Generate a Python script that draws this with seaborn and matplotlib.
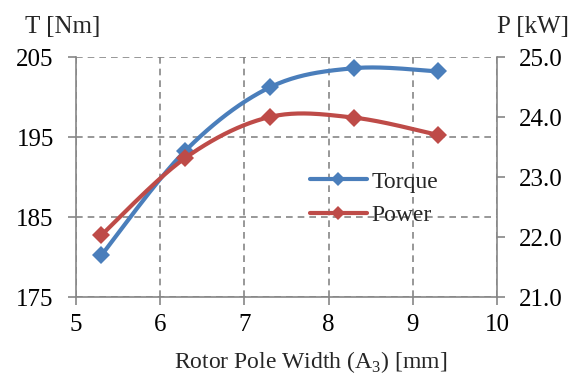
import numpy as np
import matplotlib
matplotlib.use("Agg")
import matplotlib.pyplot as plt
from matplotlib.lines import Line2D
import seaborn as sns

# values
pole_width = [5.3, 6.3, 7.3, 8.3, 9.3]
torque = [180.2, 193.3, 201.2, 203.6, 203.2]
power = [22.03, 23.32, 24.00, 23.99, 23.70]

x_ticks = [5, 6, 7, 8, 9, 10]
t_ticks = [175, 185, 195, 205]
p_ticks = [21.0, 22.0, 23.0, 24.0, 25.0]

BLUE = "#4A7EBB"
RED = "#BE4B48"
GRID = "#868686"


def smooth(xs, ys, n=40):
    # excel-style smoothed line (bezier through the points)
    p = np.column_stack([xs, ys]).astype(float)
    ext = np.vstack([p[0], p, p[-1]])
    out = []
    for i in range(len(p) - 1):
        p0, p1 = p[i], p[i + 1]
        c1 = p0 + (ext[i + 2] - ext[i]) / 6.0
        c2 = p1 - (ext[i + 3] - ext[i + 1]) / 6.0
        t = np.linspace(0, 1, n)[:, None]
        seg = ((1 - t) ** 3) * p0 + 3 * ((1 - t) ** 2) * t * c1 + 3 * (1 - t) * t ** 2 * c2 + t ** 3 * p1
        out.append(seg if i == 0 else seg[1:])
    out = np.vstack(out)
    return out[:, 0], out[:, 1]


sns.set_theme(style="white")
plt.rcParams["font.family"] = ["Liberation Serif", "DejaVu Serif"]
plt.rcParams["mathtext.fontset"] = "custom"
plt.rcParams["mathtext.rm"] = "Liberation Serif"

fig = plt.figure(figsize=(5.88, 3.74), dpi=100)
ax = fig.add_axes([76 / 588, 1 - 297 / 374, (497 - 76) / 588, (297 - 57) / 374])
ax2 = ax.twinx()

tx, ty = smooth(pole_width, torque)
sns.lineplot(x=tx, y=ty, ax=ax, color=BLUE, lw=3.0, sort=False, zorder=3)
ax.plot(pole_width, torque, "D", color=BLUE, ms=9, mew=0, zorder=4)

px, py = smooth(pole_width, power)
sns.lineplot(x=px, y=py, ax=ax2, color=RED, lw=3.0, sort=False, zorder=3)
ax2.plot(pole_width, power, "D", color=RED, ms=9, mew=0, zorder=4)

ax.set_xlim(5, 10)
ax.set_ylim(175, 205)
ax2.set_ylim(21, 25)
ax.set_xticks(x_ticks)
ax.set_yticks(t_ticks)
ax2.set_yticks(p_ticks)
ax2.set_yticklabels(["%.1f" % v for v in p_ticks])

ax.grid(True, color=GRID, lw=1.2, ls=(0, (4, 3)))
ax2.grid(False)

for a in (ax, ax2):
    a.set_facecolor("none")
    for s in a.spines.values():
        s.set_visible(False)
ax.spines["left"].set_visible(True)
ax.spines["bottom"].set_visible(True)
ax2.spines["right"].set_visible(True)
for s in (ax.spines["left"], ax.spines["bottom"], ax2.spines["right"]):
    s.set_color(GRID)
    s.set_linewidth(1.2)

ax.tick_params(axis="both", which="major", direction="out", length=6, width=1.2,
               color=GRID, labelsize=18, labelcolor="black")
ax.tick_params(axis="y", pad=10, left=True)
ax.tick_params(axis="x", pad=6, bottom=True)
ax2.tick_params(axis="y", direction="out", length=6, width=1.2, color=GRID,
                labelsize=18, labelcolor="black", pad=10, right=True)
ax.set_xlabel("")
ax.set_ylabel("")
ax2.set_ylabel("")

fig.text(25 / 588, 1 - 33 / 374, "T [Nm]", fontsize=18, va="baseline", ha="left")
fig.text(497 / 588, 1 - 33 / 374, "P [kW]", fontsize=18, va="baseline", ha="left")
fig.text(311 / 588, 1 - 368 / 374, r"Rotor Pole Width (A$_\mathregular{3}$) [mm]",
         fontsize=17, va="baseline", ha="center")

handles = [Line2D([], [], color=BLUE, lw=3.0, marker="D", ms=7, mew=0),
           Line2D([], [], color=RED, lw=3.0, marker="D", ms=7, mew=0)]
ax2.legend(handles, ["Torque", "Power"], loc="center left",
           bbox_to_anchor=(310 / 588, 1 - 198.5 / 374), bbox_transform=fig.transFigure,
           frameon=False, fontsize=17, borderpad=0, borderaxespad=0,
           handlelength=2.4, handletextpad=0.2, labelspacing=0.5)

fig.savefig("out.png", dpi=100)
